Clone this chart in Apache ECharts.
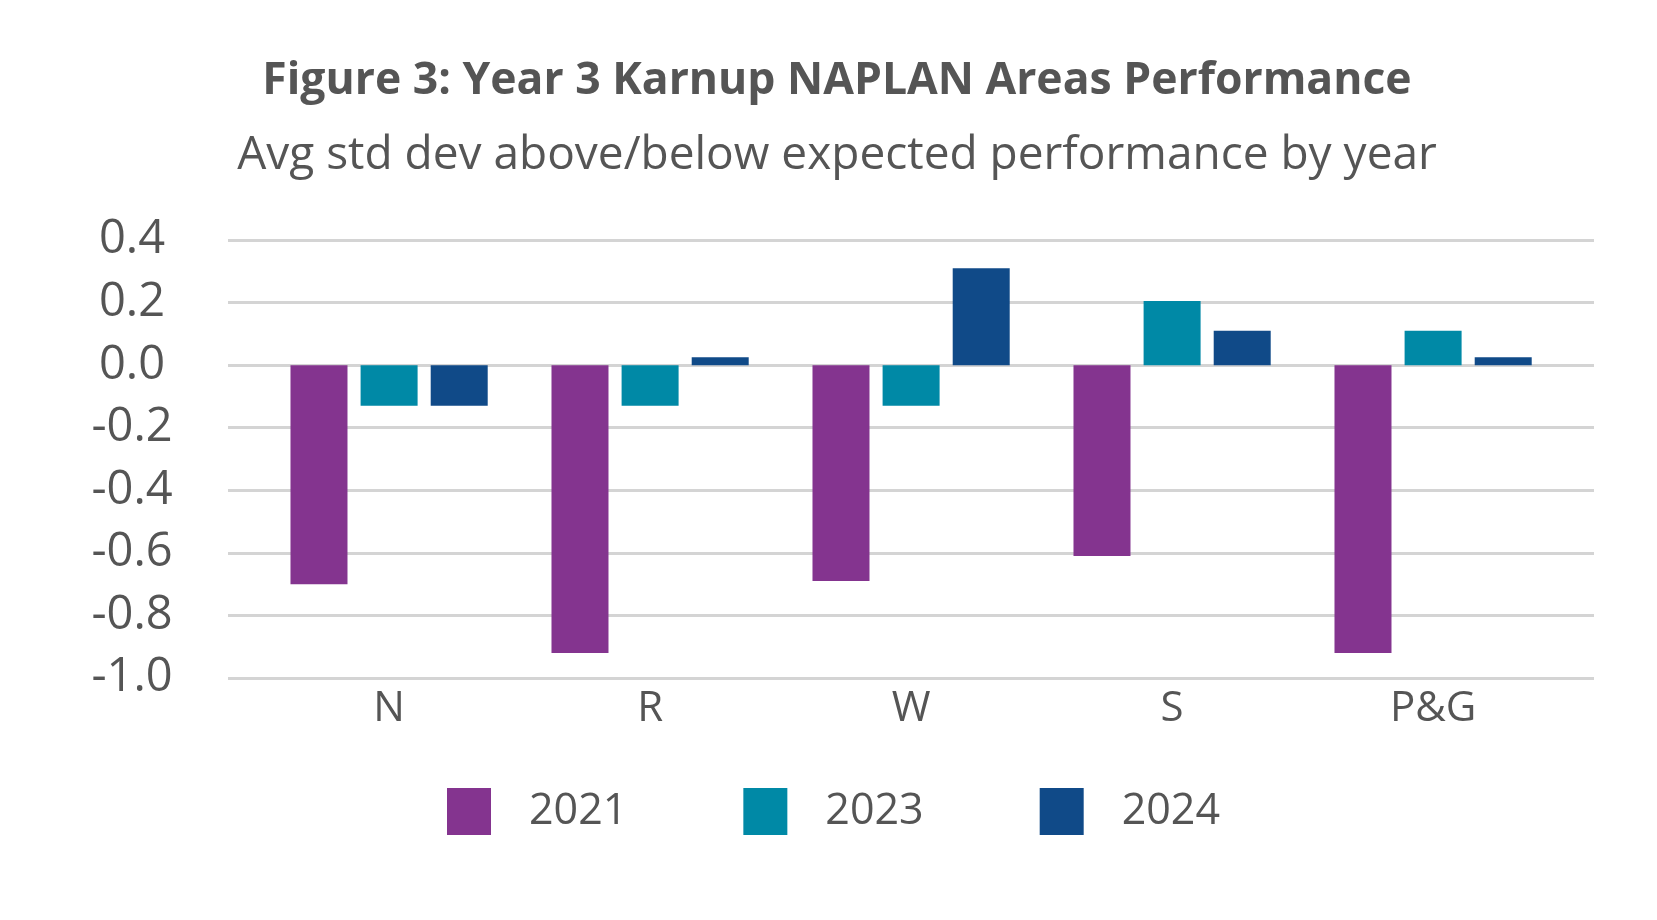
<!DOCTYPE html>
<html>
<head>
<meta charset="utf-8">
<script src="https://cdn.jsdelivr.net/npm/echarts@6/dist/echarts.min.js"></script>
<style>
html,body{margin:0;padding:0;background:#fff;}
#chart{width:1657px;height:920px;}
</style>
</head>
<body>
<div id="chart"></div>
<script>
const titleText = 'Figure 3: Year 3 Karnup NAPLAN Areas Performance';
const subtitleText = 'Avg std dev above/below expected performance by year';
const categories = ['N', 'R', 'W', 'S', 'P&G'];
const seriesNames = ['2021', '2023', '2024'];
const values2021 = [-0.70, -0.92, -0.69, -0.61, -0.92];
const values2023 = [-0.13, -0.13, -0.13, 0.205, 0.11];
const values2024 = [-0.13, 0.025, 0.31, 0.11, 0.025];
const yMin = -1.0, yMax = 0.4, yStep = 0.2;

const colors = ['#84348F', '#0089A6', '#104A88'];
const font = '"Open Sans", "Noto Sans", sans-serif';
const textColor = '#555555';

const chart = echarts.init(document.getElementById('chart'), null, {renderer: 'canvas'});
const gridTop = 240, gridHeight = 438;

chart.setOption({
  backgroundColor: '#ffffff',
  animation: false,
  color: colors,
  title: [
    {text: titleText, left: 832, textAlign: 'center', top: 54,
     textStyle: {fontFamily: font, fontSize: 44.5, fontWeight: 'bold', color: textColor}},
    {text: subtitleText, left: 832, textAlign: 'center', top: 128,
     textStyle: {fontFamily: font, fontSize: 46, fontWeight: 'normal', color: textColor}}
  ],
  legend: {
    data: seriesNames,
    left: 442, top: 783,
    icon: 'rect',
    itemWidth: 44, itemHeight: 47,
    itemGap: 116,
    textStyle: {fontFamily: font, fontSize: 43, color: textColor, padding: [0, 0, 0, 33]}
  },
  grid: [
    {left: 228, width: 1366, top: gridTop, height: gridHeight},
    {left: 258.6, width: 1305, top: gridTop, height: gridHeight}
  ],
  xAxis: [
    {gridIndex: 0, type: 'value', show: false, min: 0, max: 1},
    {gridIndex: 1, type: 'category', data: categories,
     axisLine: {show: false}, axisTick: {show: false},
     axisLabel: {fontFamily: font, fontSize: 42, color: textColor, margin: 10}}
  ],
  yAxis: [
    {gridIndex: 0, type: 'value', min: yMin, max: yMax, interval: yStep,
     axisLine: {show: false}, axisTick: {show: false},
     splitLine: {lineStyle: {color: '#d4d4d4', width: 3}},
     axisLabel: {fontFamily: font, fontSize: 47, color: textColor, align: 'center', margin: 96,
       formatter: v => Number(v).toFixed(1)}},
    {gridIndex: 1, type: 'value', min: yMin, max: yMax, interval: yStep, show: false,
     splitLine: {show: false}}
  ],
  series: [
    {name: seriesNames[0], type: 'bar', xAxisIndex: 1, yAxisIndex: 1, data: values2021, barWidth: 57, barGap: '23%'},
    {name: seriesNames[1], type: 'bar', xAxisIndex: 1, yAxisIndex: 1, data: values2023, barWidth: 57, barGap: '23%'},
    {name: seriesNames[2], type: 'bar', xAxisIndex: 1, yAxisIndex: 1, data: values2024, barWidth: 57, barGap: '23%'}
  ]
});
</script>
</body>
</html>
